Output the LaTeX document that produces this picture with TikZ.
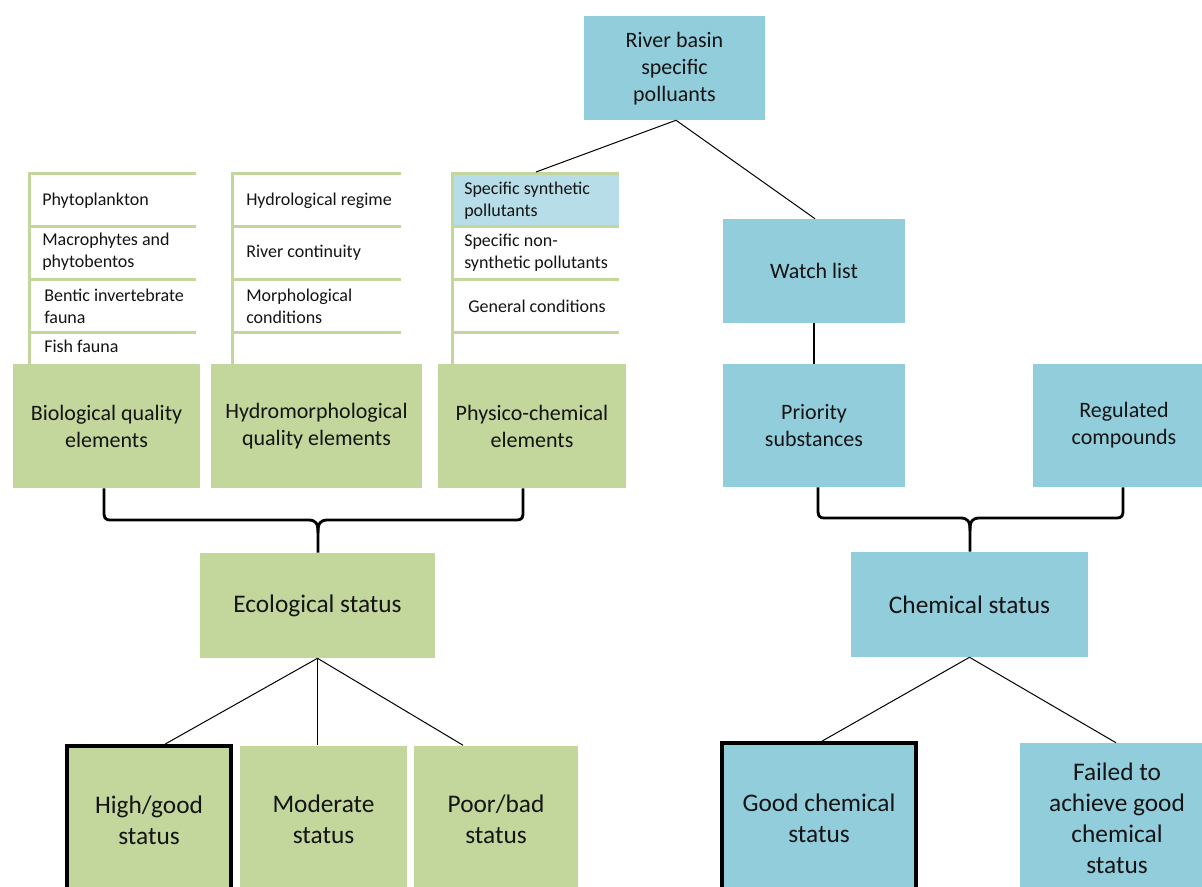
\documentclass[tikz,border=0pt]{standalone}
\usepackage{fontspec}
\setmainfont{Carlito}
\usetikzlibrary{calc}
\definecolor{gfill}{RGB}{195,214,155}
\definecolor{bfill}{RGB}{146,205,220}
\definecolor{lbfill}{RGB}{183,221,232}
\definecolor{txt}{RGB}{20,20,20}
\begin{document}
\begin{tikzpicture}[x=0.75pt,y=-0.75pt,
  base/.style={rectangle,inner sep=0pt,align=center,text=txt},
  gbox/.style={base,fill=gfill,font=\fontsize{16.5}{20.25}\selectfont},
  bbox/.style={base,fill=bfill,font=\fontsize{16.5}{20.25}\selectfont},
  bigtxt/.style={font=\fontsize{19}{23.25}\selectfont},
  item/.style={inner sep=0pt,anchor=west,align=left,text=txt,font=\fontsize{13.5}{16.5}\selectfont},
  panel/.style={draw=gfill,line width=2.25pt},
  conn/.style={draw=black,line width=0.75pt},
  bracel/.style={draw=black,line width=2.1pt,line join=round},
  thick border/.style={draw=black,line width=2.8pt}]
\useasboundingbox (0,0) rectangle (1202,886);
\clip (0,0) rectangle (1202,886);

% list panels
\fill[lbfill] (453,175) rectangle (619,225);
\foreach \xa/\xb in {29/196,232/401,452/619}{
  \draw[panel] (\xa,173) -- (\xa,364);
  \foreach \yy in {173,226,279,332}{\draw[panel] (\xa-1.1,\yy) -- (\xb,\yy);}
}
\coordinate (p3top) at (536,172);

\node[item] (phyto) at (42,201) {Phytoplankton};
\node[item] (macro) at (42,252) {Macrophytes and\\phytobentos};
\node[item] (bentic) at (44,306) {Bentic invertebrate\\fauna};
\node[item] (fish) at (44,346) {Fish fauna};
\node[item] (hydreg) at (246,201) {Hydrological regime};
\node[item] (rivcon) at (246,253) {River continuity};
\node[item] (morph) at (246,306) {Morphological\\conditions};
\node[item] (synth) at (464,201) {Specific synthetic\\pollutants};
\node[item] (nonsynth) at (464,253) {Specific non-\\synthetic pollutants};
\node[item] (gencond) at (468,306) {General conditions};

% green boxes
\node[gbox,minimum width=140.25pt,minimum height=93pt] (bio) at (106.5,426) {Biological quality\\elements};
\node[gbox,minimum width=158.25pt,minimum height=93pt] (hydro) at (316.5,426) {Hydromorphological\\quality elements};
\node[gbox,minimum width=141pt,minimum height=93pt] (phys) at (532,426) {Physico-chemical\\elements};
\node[gbox,bigtxt,minimum width=176.25pt,minimum height=78.75pt] (eco) at (317.5,605.5) {Ecological status};
\node[gbox,bigtxt,thick border,minimum width=123pt,minimum height=111pt] (high) at (149,820) {High/good\\status};
\node[gbox,bigtxt,minimum width=125.25pt,minimum height=111pt] (mod) at (323.5,819.5) {Moderate\\status};
\node[gbox,bigtxt,minimum width=123pt,minimum height=111pt] (poor) at (496,819.5) {Poor/bad\\status};

% blue boxes
\node[bbox,minimum width=135.75pt,minimum height=78pt,text depth=2pt] (river) at (674.5,68) {River basin\\specific\\polluants};
\node[bbox,minimum width=136.5pt,minimum height=78pt] (watch) at (814,271) {Watch list};
\node[bbox,minimum width=136.5pt,minimum height=92.25pt] (prio) at (814,425.5) {Priority\\substances};
\node[bbox,minimum width=136.5pt,minimum height=92.25pt] (reg) at (1124,425.5) {Regulated\\compounds};
\node[bbox,bigtxt,minimum width=177.75pt,minimum height=78.75pt] (chem) at (969.5,604.5) {Chemical status};
\node[bbox,bigtxt,thick border,minimum width=145.5pt,minimum height=112.5pt] (good) at (819,818) {Good chemical\\status};
\node[bbox,bigtxt,minimum width=145.5pt,minimum height=112.5pt] (failed) at (1117,818) {Failed to\\achieve good\\chemical\\status};

% connectors
\draw[conn] ($(river.south)+(1.5,0)$) -- (p3top);
\draw[conn] ($(river.south)+(1.5,0)$) -- ($(watch.north)+(1,0)$);
\draw[draw=black,line width=1.6pt] (watch.south) -- (prio.north);
\draw[conn] (eco.south) -- ($(high.north)+(16,0)$);
\draw[conn] (eco.south) -- ($(mod.north)+(-6,0)$);
\draw[conn] (eco.south) -- ($(poor.north)+(-33,0)$);
\draw[conn] (chem.south) -- ($(good.north)+(3,0)$);
\draw[conn] (chem.south) -- ($(failed.north)+(-1,0)$);

% braces
\draw[bracel] ($(bio.south)+(-2.5,0)$) -- (104,510) .. controls (104,518) and (104,520) .. (112,520) -- (308,520) .. controls (316,520) and (318,523) .. (318,533) -- ($(eco.north)+(0.5,0)$);
\draw[bracel] ($(phys.south)+(-9,0)$) -- (523,510) .. controls (523,518) and (523,520) .. (515,520) -- (328,520) .. controls (320,520) and (318,523) .. (318,533);
\draw[bracel] ($(prio.south)+(4,0)$) -- (818,508) .. controls (818,516) and (818,518) .. (826,518) -- (960,518) .. controls (968,518) and (970,521) .. (970,531) -- ($(chem.north)+(0.5,0)$);
\draw[bracel] ($(reg.south)+(-1,0)$) -- (1123,508) .. controls (1123,516) and (1123,518) .. (1115,518) -- (980,518) .. controls (972,518) and (970,521) .. (970,531);
\end{tikzpicture}
\end{document}
